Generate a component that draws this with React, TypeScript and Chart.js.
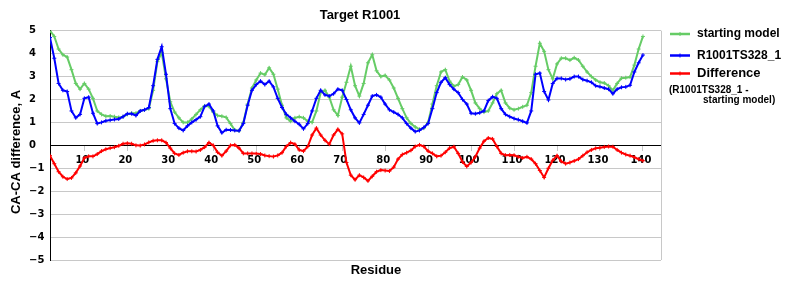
import React, { useEffect, useRef } from "react";
import { Chart, registerables } from "chart.js";

Chart.register(...registerables);

const TITLE = "Target R1001";
const X_TITLE = "Residue";
const Y_TITLE = "CA-CA difference, A";
const SERIES_NAMES = ["starting model", "R1001TS328_1", "Difference"];
const DIFF_NOTE = ["(R1001TS328_1 -", "starting model)"];

const residues = [
  2, 3, 4, 5, 6, 7, 8, 9, 10, 11,
  12, 13, 14, 15, 16, 17, 18, 19, 20, 21,
  22, 23, 24, 25, 26, 27, 28, 29, 30, 31,
  32, 33, 34, 35, 36, 37, 38, 39, 40, 41,
  42, 43, 44, 45, 46, 47, 48, 49, 50, 51,
  52, 53, 54, 55, 56, 57, 58, 59, 60, 61,
  62, 63, 64, 65, 66, 67, 68, 69, 70, 71,
  72, 73, 74, 75, 76, 77, 78, 79, 80, 81,
  82, 83, 84, 85, 86, 87, 88, 89, 90, 91,
  92, 93, 94, 95, 96, 97, 98, 99, 100, 101,
  102, 103, 104, 105, 106, 107, 108, 109, 110, 111,
  112, 113, 114, 115, 116, 117, 118, 119, 120, 121,
  122, 123, 124, 125, 126, 127, 128, 129, 130, 131,
  132, 133, 134, 135, 136, 137, 138, 139, 140,
];

const startingModel = [
  5.0, 4.75, 4.2, 3.95, 3.85, 3.3, 2.7, 2.45, 2.7, 2.45,
  2.05, 1.5, 1.35, 1.27, 1.28, 1.25, 1.22, 1.25, 1.35, 1.4,
  1.4, 1.5, 1.55, 1.6, 2.4, 3.65, 4.05, 2.9, 1.9, 1.45,
  1.2, 1.0, 1.0, 1.15, 1.35, 1.55, 1.72, 1.7, 1.45, 1.3,
  1.27, 1.22, 0.95, 0.67, 0.63, 1.0, 1.8, 2.5, 2.85, 3.15,
  3.08, 3.38, 3.1, 2.45, 1.75, 1.2, 1.05, 1.2, 1.25, 1.2,
  1.05, 1.0, 1.5, 2.3, 2.4, 2.1, 1.55, 1.3, 2.1, 2.75,
  3.45, 2.6, 2.15, 2.7, 3.6, 3.95, 3.25, 3.0, 3.05, 2.85,
  2.5, 2.05, 1.6, 1.2, 0.95, 0.8, 0.7, 0.75, 1.0, 1.8,
  2.6, 3.2, 3.3, 2.8, 2.58, 2.65, 2.98, 2.85, 2.4, 1.85,
  1.6, 1.45, 1.5, 1.85, 2.25, 2.4, 1.85, 1.62, 1.55, 1.6,
  1.68, 1.75, 2.3, 3.45, 4.45, 4.1, 3.3, 2.9, 3.55, 3.8,
  3.8, 3.72, 3.82, 3.72, 3.45, 3.2, 3.0, 2.85, 2.75, 2.72,
  2.6, 2.4, 2.7, 2.93, 2.95, 2.98, 3.5, 4.2, 4.75,
];

const model = [
  4.7, 3.8, 2.7, 2.4, 2.35, 1.5, 1.2, 1.35, 2.05, 2.1,
  1.4, 0.95, 1.0, 1.07, 1.1, 1.13, 1.15, 1.25, 1.38, 1.38,
  1.3, 1.5, 1.55, 1.65, 2.6, 3.75, 4.3, 3.1, 1.6, 0.95,
  0.75, 0.65, 0.85, 1.0, 1.12, 1.25, 1.7, 1.8, 1.5, 0.85,
  0.55, 0.68, 0.67, 0.65, 0.64, 0.95, 1.75, 2.4, 2.65, 2.8,
  2.65, 2.8, 2.55, 2.05, 1.65, 1.35, 1.2, 1.05, 0.92, 0.72,
  0.95, 1.5, 2.05, 2.4, 2.2, 2.15, 2.25, 2.45, 2.4, 2.0,
  1.55, 1.2, 0.98, 1.35, 1.75, 2.15, 2.2, 2.1, 1.8, 1.55,
  1.45, 1.35, 1.2, 0.95, 0.75, 0.6, 0.65, 0.78, 0.95, 1.6,
  2.3, 2.75, 2.95, 2.65, 2.45, 2.3, 2.0, 1.8, 1.4, 1.38,
  1.42, 1.5, 1.95, 2.12, 2.05, 1.6, 1.35, 1.25, 1.17, 1.12,
  1.05, 0.98, 1.5, 3.1, 3.15, 2.35, 1.98, 2.7, 2.92, 2.92,
  2.87, 2.9, 3.0, 3.0, 2.87, 2.82, 2.75, 2.6, 2.56, 2.5,
  2.45, 2.25, 2.45, 2.53, 2.55, 2.62, 3.2, 3.6, 3.94,
];

const difference = [
  -0.45, -0.8, -1.15, -1.37, -1.47, -1.42, -1.2, -0.9, -0.55, -0.48,
  -0.48, -0.38, -0.25, -0.17, -0.12, -0.08, -0.02, 0.07, 0.09, 0.07,
  0.0, -0.01, 0.04, 0.13, 0.2, 0.22, 0.22, 0.12, -0.12, -0.35,
  -0.42, -0.32, -0.26, -0.26, -0.27, -0.2, -0.08, 0.12, 0.0, -0.3,
  -0.45, -0.25, 0.0, 0.02, -0.12, -0.35, -0.35, -0.35, -0.36, -0.38,
  -0.44, -0.47, -0.49, -0.44, -0.32, -0.05, 0.12, 0.05, -0.2, -0.25,
  -0.05, 0.45, 0.75, 0.45, 0.22, 0.05, 0.45, 0.7, 0.5, -0.75,
  -1.3, -1.5, -1.3, -1.4, -1.55, -1.35, -1.15, -1.08, -1.1, -1.12,
  -0.95, -0.6, -0.4, -0.32, -0.22, -0.05, 0.02, -0.05, -0.25, -0.35,
  -0.48, -0.45, -0.3, -0.12, -0.06, -0.35, -0.72, -0.92, -0.75, -0.5,
  -0.12, 0.18, 0.32, 0.28, -0.05, -0.35, -0.43, -0.42, -0.43, -0.5,
  -0.55, -0.5, -0.6, -0.8, -1.1, -1.4, -1.0, -0.65, -0.45, -0.7,
  -0.8, -0.75, -0.68, -0.6, -0.45, -0.3, -0.2, -0.13, -0.1, -0.07,
  -0.05, -0.06, -0.2, -0.32, -0.4, -0.45, -0.52, -0.6, -0.67,
];

const xTickValues = [10, 20, 30, 40, 50, 60, 70, 80, 90, 100, 110, 120, 130, 140];

const COLORS = ["#66cc66", "#0000ff", "#ff0000"];
const GRID = "#c8c8c8";
const LABEL_FONT = '"Liberation Sans", Arial, sans-serif';
const TICK_FONT = '"DejaVu Sans", Verdana, sans-serif';

const decorPlugin = {
  id: "decor",
  afterDraw(chart: any) {
    const ctx = chart.ctx as CanvasRenderingContext2D;
    const a = chart.chartArea;
    ctx.save();
    // right border of plot area
    ctx.strokeStyle = GRID;
    ctx.lineWidth = 1;
    ctx.beginPath();
    const rx = Math.round(a.right) + 0.5;
    ctx.moveTo(rx, a.top);
    ctx.lineTo(rx, a.bottom);
    ctx.stroke();

    ctx.fillStyle = "#000";
    ctx.textBaseline = "middle";
    // title
    ctx.font = `bold 13px ${LABEL_FONT}`;
    ctx.textAlign = "center";
    ctx.fillText(TITLE, 360, 15);
    // x title
    ctx.fillText(X_TITLE, 376, 270);
    // y title
    ctx.save();
    ctx.translate(16, 152);
    ctx.rotate(-Math.PI / 2);
    ctx.fillText(Y_TITLE, 0, 0);
    ctx.restore();

    // legend
    const legendY = [34, 55.5, 73.5];
    const fonts = [`bold 12px ${LABEL_FONT}`, `bold 12px ${LABEL_FONT}`, `bold 13px ${LABEL_FONT}`];
    for (let i = 0; i < 3; i++) {
      const y = legendY[i];
      ctx.strokeStyle = COLORS[i];
      ctx.lineWidth = 2.5;
      ctx.beginPath();
      ctx.moveTo(670, y);
      ctx.lineTo(690, y);
      ctx.stroke();
      ctx.lineWidth = 1;
      ctx.beginPath();
      ctx.moveTo(680, y - 2);
      ctx.lineTo(680, y + 2);
      ctx.stroke();
      ctx.fillStyle = "#000";
      ctx.font = fonts[i];
      ctx.textAlign = "left";
      ctx.fillText(SERIES_NAMES[i], 697, y);
    }
    ctx.font = `bold 10px ${LABEL_FONT}`;
    ctx.textAlign = "left";
    ctx.fillText(DIFF_NOTE[0], 669, 90.5);
    ctx.fillText(DIFF_NOTE[1], 703, 100);
    ctx.restore();
  },
};

export default function App() {
  const canvasRef = useRef<HTMLCanvasElement | null>(null);

  useEffect(() => {
    const canvas = canvasRef.current;
    if (!canvas) return;
    const series = [startingModel, model, difference];
    const chart = new Chart(canvas, {
      type: "line",
      data: {
        datasets: series.map((vals, i) => ({
          label: SERIES_NAMES[i],
          data: residues.map((r, j) => ({ x: r, y: vals[j] })),
          borderColor: COLORS[i],
          backgroundColor: COLORS[i],
          borderWidth: 2,
          pointStyle: "cross",
          pointRadius: 2,
          pointBorderWidth: 1,
          pointBorderColor: COLORS[i],
          tension: 0,
          fill: false,
          order: i === 0 ? 2 : i === 1 ? 1 : 0,
        })),
      },
      options: {
        responsive: false,
        animation: false,
        devicePixelRatio: 1,
        layout: { padding: { left: 29, right: 139, top: 30.7, bottom: 40 } },
        plugins: {
          legend: { display: false },
          title: { display: false },
          tooltip: { enabled: false },
        },
        scales: {
          x: {
            type: "linear",
            position: { y: 0 } as any,
            min: 2,
            max: 144.2,
            afterBuildTicks: (scale: any) => {
              scale.ticks = xTickValues.map((v) => ({ value: v }));
            },
            grid: {
              drawOnChartArea: false,
              drawTicks: true,
              tickLength: 5,
              color: GRID,
            },
            border: { display: true, color: "#000", width: 1 },
            ticks: {
              autoSkip: false,
              maxRotation: 0,
              labelOffset: -2,
              padding: 4,
              color: "#000",
              font: { family: TICK_FONT, size: 10, weight: "bold" },
            },
          },
          y: {
            min: -5,
            max: 5,
            afterFit: (scale: any) => {
              scale.width = 21;
            },
            grid: {
              drawTicks: false,
              color: (c: any) => (c.tick && c.tick.value === 0 ? "#000" : GRID),
            },
            border: { display: true, color: "#000", width: 1 },
            ticks: {
              stepSize: 1,
              crossAlign: "far",
              color: "#000",
              font: { family: TICK_FONT, size: 10, weight: "bold" },
              callback: (v: any) => (v < 0 ? "\u2212" + Math.abs(v) : String(v)),
            },
          },
        },
      },
      plugins: [decorPlugin],
    } as any);
    return () => chart.destroy();
  }, []);

  return (
    <div style={{ position: "fixed", left: 0, top: 0, width: 800, height: 300, background: "#fff" }}>
      <canvas ref={canvasRef} width={800} height={300} style={{ display: "block" }} />
    </div>
  );
}
